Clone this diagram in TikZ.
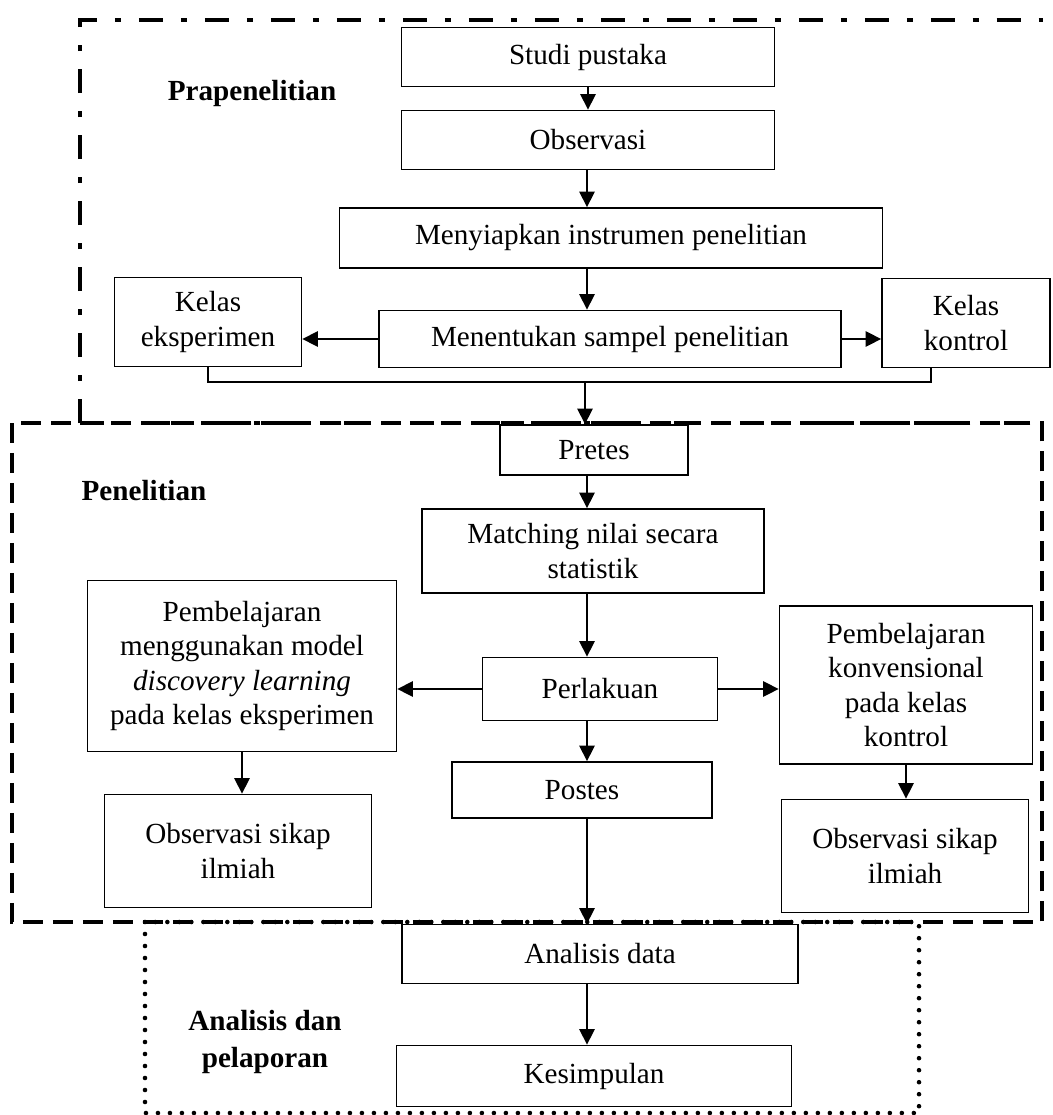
\documentclass[tikz,border=0pt]{standalone}
\usepackage{fontspec}
\setmainfont{Liberation Serif}
\usetikzlibrary{arrows.meta}

\begin{document}
\begin{tikzpicture}[x=0.02cm, y=-0.02cm,
    box/.style={draw, line width=0.9pt, align=center, inner sep=0pt, font=\fontsize{16.6}{19.4}\selectfont},
    phase/.style={align=center, font=\bfseries\fontsize{16.6}{21.5}\selectfont},
    flow/.style={line width=1.4pt, -{Triangle[length=0.31cm,width=0.3cm]}},
    link/.style={line width=1.1pt},
    praframe/.style={line width=2.3pt, dash pattern=on 0.48cm off 0.36cm on 0.12cm off 0.36cm},
    penframe/.style={line width=2.3pt, dash pattern=on 0.4cm off 0.2cm},
    anaframe/.style={line width=2.6pt, line cap=round, dash pattern=on 0pt off 0.24cm}]
    \useasboundingbox (0,0) rectangle (1052,1115);
    \draw[praframe] (80,423) -- (80,20) -- (1043,20);
    \draw[praframe] (80,423) -- (1043,423);
    \draw[penframe] (12,423) rectangle (1042,922);
    \draw[anaframe] (145,922) rectangle (919,1113);
    \node[phase] (praLabel) at (252,93) {Prapenelitian};
    \node[phase] (penLabel) at (144,491) {Penelitian};
    \node[phase] (anaLabel) at (265,1042) {Analisis dan\\pelaporan};
    \coordinate (axis) at (587,0);
    \coordinate (join) at (585,382);
    \node[box, minimum width=7.46cm, minimum height=1.18cm] (studi) at (588,57) {Studi pustaka};
    \node[box, minimum width=7.46cm, minimum height=1.18cm] (observasi) at (588,140) {Observasi};
    \node[box, minimum width=10.86cm, minimum height=1.2cm] (menyiapkan) at (611,238) {Menyiapkan instrumen penelitian};
    \node[box, minimum width=3.74cm, minimum height=1.78cm] (kelasE) at (208,322) {Kelas\\eksperimen};
    \node[box, minimum width=9.24cm, minimum height=1.14cm] (sampel) at (610,339) {Menentukan sampel penelitian};
    \node[box, minimum width=3.36cm, minimum height=1.78cm] (kelasK) at (966,323) {Kelas\\kontrol};
    \node[box, minimum width=3.76cm, minimum height=1cm] (pretes) at (594,450) {Pretes};
    \node[box, minimum width=6.84cm, minimum height=1.68cm] (matching) at (593,551) {Matching nilai secara\\statistik};
    \node[box, minimum width=6.18cm, minimum height=3.42cm] (pembE) at (242,666) {Pembelajaran\\menggunakan model\\\textit{discovery learning}\\pada kelas eksperimen};
    \node[box, minimum width=4.7cm, minimum height=1.26cm] (perlakuan) at (600,689) {Perlakuan};
    \node[box, minimum width=5.06cm, minimum height=3.16cm] (pembK) at (906,685) {Pembelajaran\\konvensional\\pada kelas\\kontrol};
    \node[box, minimum width=5.2cm, minimum height=1.12cm] (postes) at (582,790) {Postes};
    \node[box, minimum width=5.34cm, minimum height=2.26cm] (obsE) at (238,851) {Observasi sikap\\ilmiah};
    \node[box, minimum width=4.94cm, minimum height=2.26cm] (obsK) at (905,856) {Observasi sikap\\ilmiah};
    \node[box, minimum width=7.92cm, minimum height=1.18cm] (analisis) at (600,954) {Analisis data};
    \node[box, minimum width=7.9cm, minimum height=1.22cm] (kesimpulan) at (594,1076) {Kesimpulan};
    \draw[flow] (studi.south) -- (observasi.north);
    \draw[flow] (axis |- observasi.south) -- (axis |- menyiapkan.north);
    \draw[flow] (axis |- menyiapkan.south) -- (axis |- sampel.north);
    \draw[flow] (sampel.west) -- (kelasE.east |- sampel.west);
    \draw[flow] (sampel.east) -- (kelasK.west |- sampel.east);
    \draw[link] (kelasE.south) -- (kelasE.south |- join) -- ([xshift=-0.7cm]kelasK.south |- join) -- ([xshift=-0.7cm]kelasK.south);
    \draw[flow] (join) -- (join |- pretes.north);
    \draw[flow] (axis |- pretes.south) -- (axis |- matching.north);
    \draw[flow] (axis |- matching.south) -- (axis |- perlakuan.north);
    \draw[flow] (perlakuan.west) -- (pembE.east |- perlakuan.west);
    \draw[flow] (perlakuan.east) -- (pembK.west |- perlakuan.east);
    \draw[flow] (pembE.south) -- (pembE.south |- obsE.north);
    \draw[flow] (pembK.south) -- (pembK.south |- obsK.north);
    \draw[flow] (axis |- perlakuan.south) -- (axis |- postes.north);
    \draw[flow] (axis |- postes.south) -- (axis |- analisis.north);
    \draw[flow] (axis |- analisis.south) -- (axis |- kesimpulan.north);
\end{tikzpicture}
\end{document}
